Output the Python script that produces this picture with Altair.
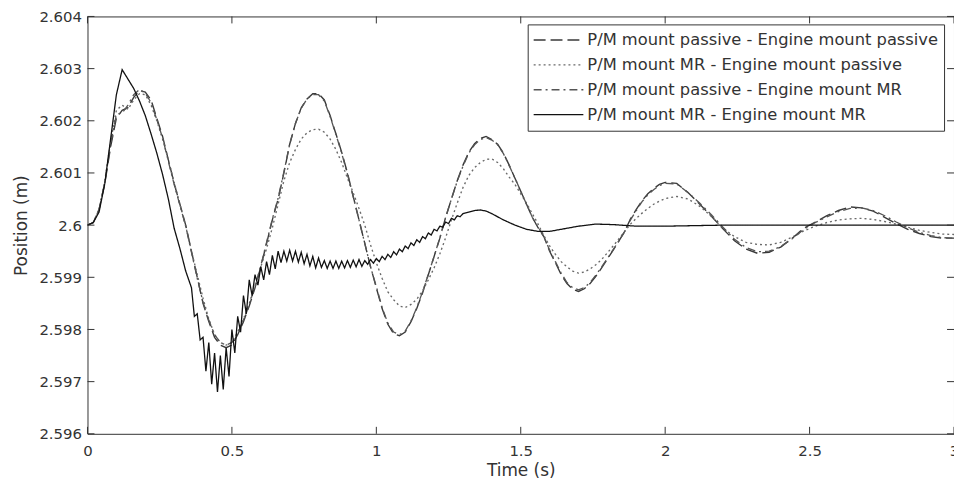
import altair as alt
import pandas as pd

series_names = [
    "P/M mount passive - Engine mount passive",
    "P/M mount MR - Engine mount passive",
    "P/M mount passive - Engine mount MR",
    "P/M mount MR - Engine mount MR",
]
series_colors = ["#3a3a3a", "#6a6a6a", "#555555", "#111111"]
series_dash = [[12, 5], [2, 3], [8, 4, 2, 4], [1, 0]]
series_width = [1.4, 1.3, 1.3, 2.6]

x_ticks = [0, 0.5, 1, 1.5, 2, 2.5, 3]
y_ticks = [2.596, 2.597, 2.598, 2.599, 2.6, 2.601, 2.602, 2.603, 2.604]

# sample times (s) for the three smooth curves
time_grid = [round(0.02 * i, 2) for i in range(101)] + [round(2.0 + 0.04 * i, 2) for i in range(1, 26)]

# deviations from 2.6 m, in mm
dev_pp = [
    0, 0.05, 0.3, 0.8, 1.5, 2.05, 2.2, 2.25, 2.45, 2.58,
    2.55, 2.4, 2.05, 1.7, 1.25, 0.8, 0.4, 0.0, -0.5, -1.0,
    -1.5, -1.85, -2.15, -2.3, -2.35, -2.3, -2.1, -1.85, -1.55, -1.2,
    -0.8, -0.35, 0.1, 0.5, 1.0, 1.55, 1.95, 2.25, 2.42, 2.52,
    2.52, 2.4, 2.1, 1.75, 1.4, 1.0, 0.55, 0.1, -0.35, -0.8,
    -1.2, -1.6, -1.9, -2.08, -2.12, -2.05, -1.85, -1.6, -1.3, -0.95,
    -0.6, -0.25, 0.15, 0.5, 0.85, 1.15, 1.4, 1.56, 1.66, 1.7,
    1.64, 1.55, 1.38, 1.15, 0.9, 0.65, 0.4, 0.15, -0.05, -0.22,
    -0.5, -0.72, -0.95, -1.12, -1.23, -1.27, -1.22, -1.12, -0.98, -0.82,
    -0.65, -0.48, -0.3, -0.12, 0.12, 0.3, 0.47, 0.6, 0.7, 0.78,
    0.82,
    0.8, 0.62, 0.4, 0.17, -0.07, -0.3, -0.46, -0.54, -0.52, -0.42,
    -0.25, -0.06, 0.06, 0.18, 0.28, 0.35, 0.33, 0.27, 0.15, 0.03,
    -0.08, -0.16, -0.22, -0.25, -0.25,
]

dev_mp = [
    0, 0.05, 0.3, 0.85, 1.6, 2.2, 2.3, 2.22, 2.4, 2.52,
    2.5, 2.3, 2.0, 1.65, 1.25, 0.82, 0.4, -0.02, -0.5, -0.95,
    -1.4, -1.8, -2.1, -2.25, -2.3, -2.25, -2.05, -1.8, -1.5, -1.15,
    -0.8, -0.45, -0.05, 0.4, 0.85, 1.2, 1.45, 1.65, 1.77, 1.83,
    1.84, 1.78, 1.65, 1.45, 1.2, 0.9, 0.62, 0.32, 0.0, -0.38,
    -0.72, -1.02, -1.28, -1.43, -1.55, -1.58, -1.52, -1.42, -1.26, -1.05,
    -0.82, -0.55, -0.24, 0.1, 0.42, 0.72, 0.95, 1.1, 1.2, 1.26,
    1.27, 1.2, 1.08, 0.92, 0.78, 0.6, 0.42, 0.22, 0.02, -0.2,
    -0.4, -0.56, -0.7, -0.8, -0.88, -0.92, -0.9, -0.84, -0.76, -0.66,
    -0.53, -0.4, -0.26, -0.12, 0.02, 0.13, 0.23, 0.32, 0.4, 0.46,
    0.51,
    0.55, 0.5, 0.36, 0.17, -0.06, -0.22, -0.33, -0.37, -0.38, -0.33,
    -0.23, -0.11, -0.02, 0.05, 0.1, 0.12, 0.13, 0.11, 0.07, 0.02,
    -0.04, -0.1, -0.14, -0.17, -0.18,
]

dev_pm = [
    0, 0.05, 0.3, 0.82, 1.55, 2.12, 2.15, 2.3, 2.5, 2.6,
    2.53, 2.35, 2.02, 1.67, 1.22, 0.78, 0.38, -0.02, -0.52, -1.02,
    -1.48, -1.82, -2.1, -2.25, -2.3, -2.25, -2.08, -1.82, -1.52, -1.18,
    -0.78, -0.33, 0.12, 0.52, 1.02, 1.55, 1.95, 2.24, 2.42, 2.5,
    2.5, 2.38, 2.08, 1.74, 1.38, 0.98, 0.54, 0.1, -0.35, -0.8,
    -1.18, -1.58, -1.88, -2.05, -2.1, -2.03, -1.84, -1.58, -1.28, -0.94,
    -0.6, -0.24, 0.15, 0.5, 0.84, 1.13, 1.38, 1.54, 1.64, 1.68,
    1.63, 1.54, 1.37, 1.14, 0.9, 0.65, 0.4, 0.15, -0.04, -0.22,
    -0.48, -0.7, -0.92, -1.1, -1.2, -1.24, -1.2, -1.1, -0.96, -0.8,
    -0.64, -0.47, -0.3, -0.12, 0.1, 0.28, 0.45, 0.58, 0.68, 0.76,
    0.8,
    0.79, 0.62, 0.42, 0.2, -0.04, -0.27, -0.43, -0.51, -0.5, -0.41,
    -0.26, -0.08, 0.05, 0.16, 0.26, 0.32, 0.33, 0.28, 0.18, 0.06,
    -0.05, -0.14, -0.2, -0.24, -0.25,
]

# MR - MR curve (with the high-frequency ripple)
time_mm = ([0, 0.02, 0.04, 0.06, 0.08, 0.10, 0.12, 0.14, 0.16, 0.18, 0.20, 0.22, 0.24, 0.26, 0.28, 0.30, 0.32, 0.34]
           + [round(0.36 + 0.01 * i, 2) for i in range(95)]
           + [1.32, 1.34, 1.36, 1.38, 1.40, 1.44, 1.48, 1.52, 1.56, 1.60, 1.64, 1.70, 1.76, 1.82, 1.90, 2.0, 2.2, 2.5, 3.0])
dev_mm = [
    0.0, 0.05, 0.25, 0.8, 1.65, 2.5, 2.98, 2.8, 2.62, 2.38, 2.1, 1.75, 1.38, 0.97, 0.5, -0.06, -0.45, -0.88,
    -1.20, -1.75, -1.70, -2.20, -2.15, -2.80, -2.25, -3.05, -2.45, -3.20,
    -2.50, -3.15, -2.35, -2.90, -2.00, -2.45, -1.75, -2.05, -1.35, -1.70,
    -1.05, -1.35, -0.95, -1.15, -0.80, -1.05, -0.70, -0.95, -0.58, -0.84,
    -0.50, -0.72, -0.50, -0.69, -0.48, -0.69, -0.50, -0.71, -0.52, -0.74,
    -0.56, -0.78, -0.60, -0.82, -0.63, -0.81, -0.68, -0.83, -0.69, -0.83,
    -0.69, -0.83, -0.69, -0.82, -0.68, -0.81, -0.67, -0.80, -0.66, -0.79,
    -0.68, -0.75, -0.66, -0.73, -0.64, -0.70, -0.60, -0.66, -0.56, -0.62,
    -0.51, -0.57, -0.46, -0.51, -0.40, -0.45, -0.34, -0.39, -0.28, -0.33,
    -0.22, -0.26, -0.15, -0.19, -0.08, -0.11, -0.02, -0.04, 0.06, 0.03,
    0.13, 0.10, 0.18, 0.16, 0.22,
    0.25, 0.28, 0.29, 0.27, 0.22, 0.1, 0.0, -0.08, -0.12, -0.12, -0.08, -0.02, 0.02, 0.01, -0.02, -0.02, 0.0, 0.0, 0.0,
]

for name, t, d in [("pp", time_grid, dev_pp), ("mp", time_grid, dev_mp), ("pm", time_grid, dev_pm), ("mm", time_mm, dev_mm)]:
    assert len(t) == len(d), (name, len(t), len(d))

rows = []
for name, t, d in zip(series_names, [time_grid, time_grid, time_grid, time_mm], [dev_pp, dev_mp, dev_pm, dev_mm]):
    for ti, di in zip(t, d):
        rows.append({"t": ti, "pos": 2.6 + di / 1000.0, "series": name})
df = pd.DataFrame(rows)

W, H = 872, 420
FONT = "DejaVu Sans"
AX = "#333333"
TL = 7

xscale = alt.Scale(domain=[0, 3], nice=False, zero=False)
yscale = alt.Scale(domain=[2.596, 2.604], nice=False, zero=False)

legend = alt.Legend(
    title=None, orient="none", legendX=443, legendY=8,
    strokeColor=AX, fillColor="white", padding=5,
    symbolType="stroke", symbolSize=2500, clipHeight=21.5,
    labelFont=FONT, labelFontSize=16.4, labelColor="#333333",
    rowPadding=3, labelOffset=3, labelLimit=500,
)

lines = alt.Chart(df).mark_line(clip=True).encode(
    x=alt.X("t:Q", scale=xscale, title="Time (s)",
            axis=alt.Axis(values=x_ticks, format=".4~f", ticks=False, tickSize=0, domain=False, grid=False,
                          labelFlush=False, labelPadding=10, titlePadding=4,
                          labelFont=FONT, labelFontSize=15, labelColor="#333333",
                          titleFont=FONT, titleFontSize=17, titleFontWeight="normal", titleColor="#333333")),
    y=alt.Y("pos:Q", scale=yscale, title="Position (m)",
            axis=alt.Axis(values=y_ticks, format=".4~f", ticks=False, tickSize=0, domain=False, grid=False,
                          labelFlush=False, labelPadding=6, titlePadding=8,
                          labelFont=FONT, labelFontSize=15, labelColor="#333333",
                          titleFont=FONT, titleFontSize=17, titleFontWeight="normal", titleColor="#333333")),
    color=alt.Color("series:N", scale=alt.Scale(domain=series_names, range=series_colors), legend=legend),
    strokeDash=alt.StrokeDash("series:N", scale=alt.Scale(domain=series_names, range=series_dash), legend=legend),
    strokeWidth=alt.StrokeWidth("series:N", scale=alt.Scale(domain=series_names, range=series_width), legend=legend),
    order=alt.Order("t:Q"),
)

xt = pd.DataFrame({"t": x_ticks})
yt = pd.DataFrame({"pos": y_ticks})

tick_bottom = alt.Chart(xt).mark_rule(color=AX, strokeWidth=1).encode(
    x=alt.X("t:Q", scale=xscale), y=alt.value(H), y2=alt.value(H - TL))
tick_top = alt.Chart(xt).mark_rule(color=AX, strokeWidth=1).encode(
    x=alt.X("t:Q", scale=xscale), y=alt.value(0), y2=alt.value(TL))
tick_left = alt.Chart(yt).mark_rule(color=AX, strokeWidth=1).encode(
    y=alt.Y("pos:Q", scale=yscale), x=alt.value(0), x2=alt.value(TL))
tick_right = alt.Chart(yt).mark_rule(color=AX, strokeWidth=1).encode(
    y=alt.Y("pos:Q", scale=yscale), x=alt.value(W), x2=alt.value(W - TL))

chart = alt.layer(lines, tick_bottom, tick_top, tick_left, tick_right).properties(
    width=W, height=H,
    autosize=alt.AutoSizeParams(type="none"),
    padding={"left": 80, "top": 7, "right": 0, "bottom": 48},
    background="white",
).configure_view(stroke=AX, strokeWidth=1)

chart.save("out.html", embed_options={"renderer": "svg", "actions": False})
